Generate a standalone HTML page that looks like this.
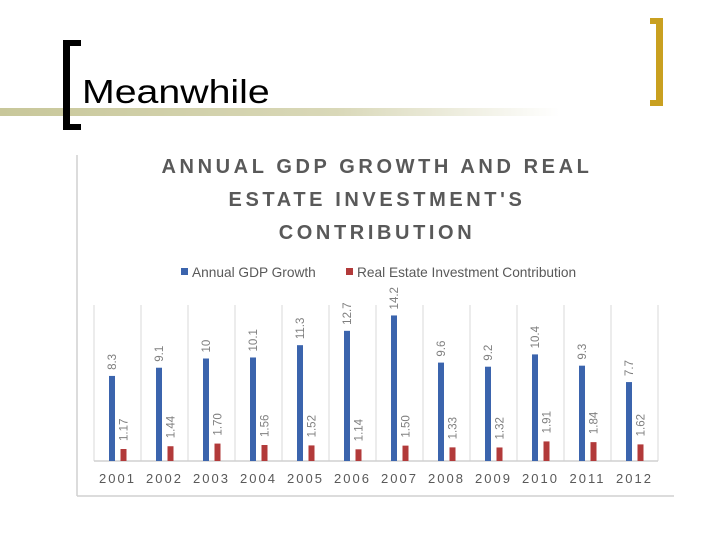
<!DOCTYPE html>
<html><head><meta charset="utf-8">
<style>
html,body{margin:0;padding:0;background:#fff;}
body{width:720px;height:540px;position:relative;overflow:hidden;font-family:"Liberation Sans",sans-serif;}
.abs{position:absolute;}
</style></head>
<body>
<div class="abs" style="left:0;top:108px;width:560px;height:8px;background:linear-gradient(to right,#c8c79a,#d9d8b8 60%,rgba(255,255,255,0));"></div>
<div class="abs" style="left:63px;top:40px;width:7px;height:90px;background:#000;"></div>
<div class="abs" style="left:63px;top:40px;width:18px;height:6px;background:#000;"></div>
<div class="abs" style="left:63px;top:124px;width:18px;height:6px;background:#000;"></div>
<div class="abs" style="left:656px;top:18px;width:7px;height:88px;background:#c9a020;"></div>
<div class="abs" style="left:650px;top:18px;width:13px;height:6px;background:#c9a020;"></div>
<div class="abs" style="left:650px;top:100px;width:13px;height:6px;background:#c9a020;"></div>
<div class="abs" style="left:82px;top:72px;font-size:33px;color:#000;line-height:40px;transform:scaleX(1.19);transform-origin:0 0;">Meanwhile</div>

<svg class="abs" style="left:0;top:0" width="720" height="540">
<g id="g"></g>
</svg>
<script>
const years=["2001","2002","2003","2004","2005","2006","2007","2008","2009","2010","2011","2012"];
const gdp=[8.3,9.1,10,10.1,11.3,12.7,14.2,9.6,9.2,10.4,9.3,7.7];
const gdpLabels=["8.3","9.1","10","10.1","11.3","12.7","14.2","9.6","9.2","10.4","9.3","7.7"];
const re=[1.17,1.44,1.70,1.56,1.52,1.14,1.50,1.33,1.32,1.91,1.84,1.62];
const reLabels=["1.17","1.44","1.70","1.56","1.52","1.14","1.50","1.33","1.32","1.91","1.84","1.62"];
const titleLines=["ANNUAL GDP GROWTH AND REAL","ESTATE INVESTMENT'S","CONTRIBUTION"];
const NS="http://www.w3.org/2000/svg";
const g=document.getElementById('g');
const x0=94,step=47,base=461,k=10.25;
function xs(i){return x0+i*step;}
function ys(v){return base-v*k;}
function mk(t,a,txt){const e=document.createElementNS(NS,t);for(const n in a)e.setAttribute(n,a[n]);if(txt!=null)e.textContent=txt;g.appendChild(e);return e;}
let e;
e=mk('line',{x1:77,y1:155,x2:77,y2:496,stroke:'#d0d0d0','stroke-width':1.5});


e=mk('line',{x1:77,y1:496,x2:674,y2:496,stroke:'#d0d0d0','stroke-width':1.5});


titleLines.forEach((t,i)=>{
e=mk('text',{x:377,y:173+i*33,'text-anchor':'middle','font-size':20,'font-weight':'bold',fill:'#595959','letter-spacing':3.6},t);


});
e=mk('rect',{x:181,y:268,width:7,height:7,fill:'#3b64ad'});


e=mk('text',{x:192,y:277,'font-size':13.7,fill:'#595959'},'Annual GDP Growth');


e=mk('rect',{x:346,y:268,width:7,height:7,fill:'#b23a3a'});


e=mk('text',{x:357,y:277,'font-size':13.7,fill:'#595959'},'Real Estate Investment Contribution');


for(let i=0;i<=years.length;i++){
e=mk('line',{x1:xs(i),y1:305,x2:xs(i),y2:base,stroke:'#d9d9d9','stroke-width':1});


}
e=mk('line',{x1:x0,y1:base,x2:xs(years.length),y2:base,stroke:'#d0d0d0','stroke-width':1.5});


years.forEach((y,i)=>{
const c=xs(i)+step/2;
const bx=c-8.5,rx=c+3;
e=mk('rect',{x:bx,y:ys(gdp[i]),width:6,height:gdp[i]*k,fill:'#3b64ad'});


e=mk('rect',{x:rx,y:ys(re[i]),width:6,height:re[i]*k,fill:'#b23a3a'});


let lx=bx+3+4,ly=ys(gdp[i])-6;
e=mk('text',{x:lx,y:ly,'font-size':11.5,fill:'#7f7f7f',transform:`rotate(-90 ${lx} ${ly})`},gdpLabels[i]);


lx=rx+3+4;ly=ys(re[i])-8;
e=mk('text',{x:lx,y:ly,'font-size':11.5,fill:'#7f7f7f',transform:`rotate(-90 ${lx} ${ly})`},reLabels[i]);


e=mk('text',{x:c,y:483,'text-anchor':'middle','font-size':13,fill:'#595959','letter-spacing':2},y);


});
</script>
</body></html>
